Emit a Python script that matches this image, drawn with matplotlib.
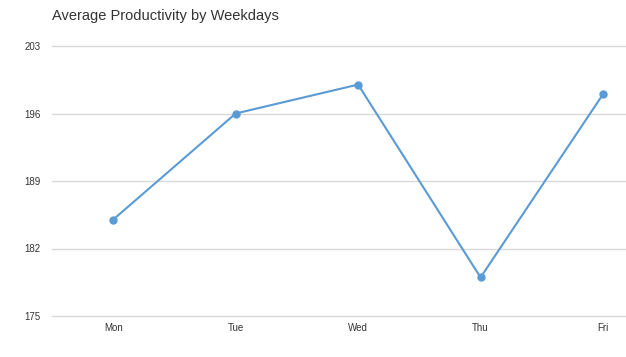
import matplotlib
import matplotlib.pyplot as plt

matplotlib.use("Agg")

days = ["Mon", "Tue", "Wed", "Thu", "Fri"]
productivity = [185, 196, 199, 179, 198]
y_ticks = [175, 182, 189, 196, 203]

plt.rcParams["font.family"] = ["Liberation Sans", "DejaVu Sans"]

fig = plt.figure(figsize=(6.26, 3.57), dpi=100)
ax = fig.add_axes([52 / 626, 41 / 357, 574 / 626, 270 / 357])

x = list(range(len(days)))
ax.plot(x, productivity, color="#5b9bd5", linewidth=1.5, marker="o", markersize=5, zorder=3)

ax.set_xlim(-0.5, (626 - 113) / 122.5)
ax.set_ylim(175, 203)
ax.set_yticks(y_ticks)
ax.set_xticks(x)
ax.set_xticklabels(days)
ax.grid(axis="y", color="#d9d9d9", linewidth=1)
for line in ax.get_ygridlines():
    line.set_clip_on(False)
ax.set_axisbelow(True)
for spine in ax.spines.values():
    spine.set_visible(False)
ax.tick_params(length=0, labelsize=7, colors="#333333")
ax.tick_params(axis="y", pad=8)
ax.tick_params(axis="x", pad=5)

fig.text(52 / 626, 1 - 16 / 357, "Average Productivity by Weekdays", fontsize=10.5,
         color="#333333", va="center", ha="left")

fig.savefig("out.png", dpi=100, facecolor="white")
